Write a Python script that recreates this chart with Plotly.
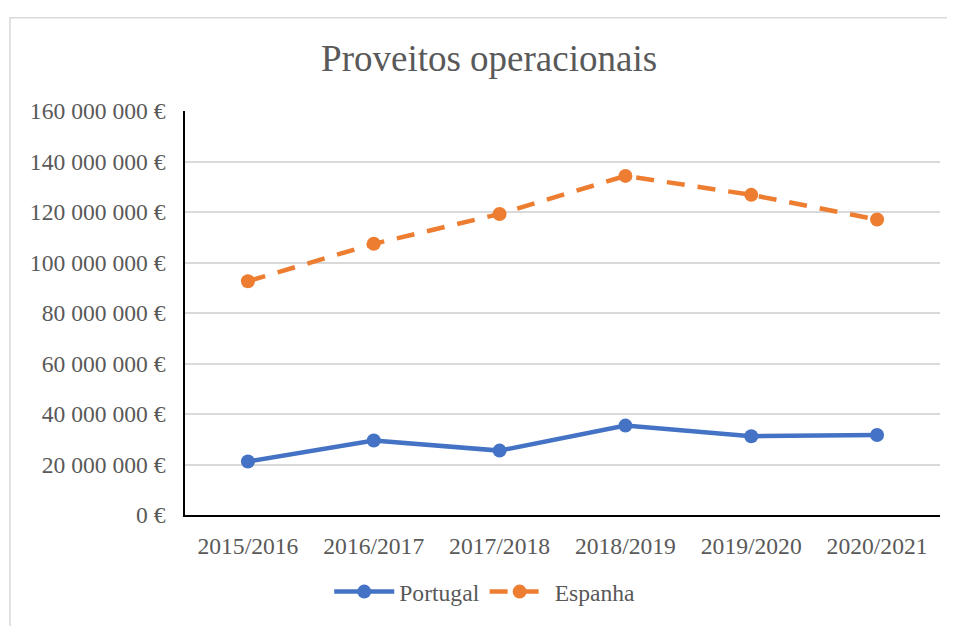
import plotly.graph_objects as go

categories = ["2015/2016", "2016/2017", "2017/2018", "2018/2019", "2019/2020", "2020/2021"]
portugal = [21200000, 29500000, 25500000, 35400000, 31200000, 31700000]
espanha = [92600000, 107400000, 119200000, 134300000, 126800000, 117000000]
y_ticks = [0, 20000000, 40000000, 60000000, 80000000, 100000000, 120000000, 140000000, 160000000]
y_ticktext = [f"{v:,}".replace(",", " ") + " €" for v in y_ticks]

FONT = "Liberation Serif, Times New Roman, serif"
TXT = "#595959"

fig = go.Figure()
fig.add_trace(go.Scatter(
    x=categories, y=portugal, name="Portugal", mode="lines+markers",
    line=dict(color="#4472C4", width=4.5),
    marker=dict(color="#4472C4", size=14),
))
fig.add_trace(go.Scatter(
    x=categories, y=espanha, name="Espanha", mode="lines+markers",
    line=dict(color="#ED7D31", width=4.5, dash="18px,13px"),
    marker=dict(color="#ED7D31", size=14),
))

# page body has an 8px margin; compensate
W, H = 947, 618
fig.update_layout(
    width=W, height=H,
    margin=dict(l=177, r=15, t=103, b=108),
    paper_bgcolor="white", plot_bgcolor="white",
    font=dict(family=FONT, size=23.6, color=TXT),
    title=dict(text="Proveitos operacionais", x=0.508, xanchor="center",
               y=1 - 50 / H, yanchor="middle",
               font=dict(family=FONT, size=37, color=TXT)),
    showlegend=True,
    legend=dict(orientation="h", x=0.397, xanchor="center", y=-0.19, yanchor="middle",
                font=dict(family=FONT, size=23.6, color=TXT), itemwidth=60,
                bgcolor="rgba(0,0,0,0)"),
    xaxis=dict(type="category", range=[-0.5, 5.5], showgrid=False,
               showline=True, linecolor="black", linewidth=1.5,
               ticks="", ticklabelstandoff=9,
               tickfont=dict(family=FONT, size=23.6, color=TXT)),
    yaxis=dict(range=[0, 160000000], tickvals=y_ticks, ticktext=y_ticktext,
               showgrid=True, gridcolor="#D9D9D9", gridwidth=1.5, zeroline=False,
               showline=True, linecolor="black", linewidth=1.5,
               ticks="", ticklabelstandoff=13,
               tickfont=dict(family=FONT, size=23.6, color=TXT)),
    shapes=[dict(type="rect", xref="paper", yref="paper",
                 x0=(10 - 185) / 755, x1=1.2, y0=-0.5, y1=(516 - 15) / 407,
                 line=dict(color="#D9D9D9", width=1.5), layer="below")],
)

fig.write_html("out.html")
